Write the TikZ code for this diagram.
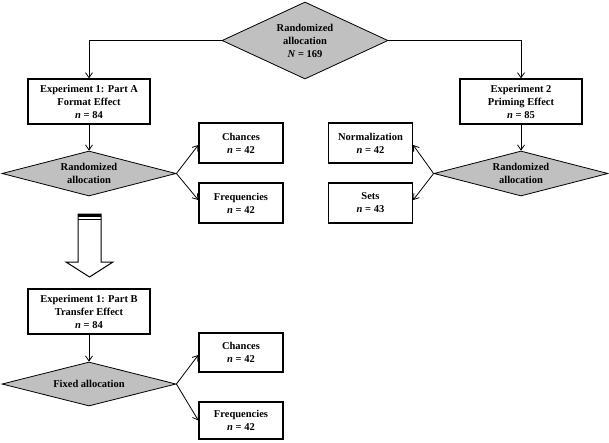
\documentclass[tikz,border=0pt]{standalone}
\usepackage{fontspec}
\setmainfont{Liberation Serif}
\usetikzlibrary{shapes.geometric,arrows.meta}
\definecolor{dgray}{RGB}{192,192,192}
\tikzset{
  txt/.style={font=\fontsize{10.5}{13}\selectfont\bfseries, align=center},
  bigbox/.style={txt, draw, line width=1.3pt, minimum width=122pt, minimum height=45pt, inner sep=0pt},
  smallbox/.style={txt, draw, line width=1.3pt, minimum width=84pt, minimum height=40pt, inner sep=0pt},
  dia/.style={txt, shape=diamond, draw, line width=0.8pt, fill=dgray, inner sep=0pt},
  conn/.style={line width=0.8pt, -{Straight Barb[length=5pt,width=7pt]}},
}
\begin{document}
\begin{tikzpicture}[x=1pt,y=-1pt]
\useasboundingbox (0,0) rectangle (609,442);
% top diamond
\node[dia, minimum width=166pt, minimum height=77pt, shape aspect=2.16] (top) at (305,40.5) {Randomized\\allocation\\\textit{N} = 169};
% experiment boxes
\node[bigbox] (e1a) at (89,101.5) {Experiment 1: Part A\\Format Effect\\\textit{n} = 84};
\node[bigbox] (e2) at (521,101.5) {Experiment 2\\Priming Effect\\\textit{n} = 85};
% second-level diamonds
\node[dia, minimum width=174pt, minimum height=45pt, shape aspect=3.87] (dA) at (89,173.5) {Randomized\\allocation};
\node[dia, minimum width=174pt, minimum height=45pt, shape aspect=3.87] (dB) at (521,173.5) {Randomized\\allocation};
% small boxes
\node[smallbox] (chA) at (241,143) {Chances\\\textit{n} = 42};
\node[smallbox] (frA) at (241,203) {Frequencies\\\textit{n} = 42};
\node[smallbox] (norm) at (370.5,143) {Normalization\\\textit{n} = 42};
\node[smallbox] (sets) at (370.5,203) {Sets\\\textit{n} = 43};
% part B
\node[bigbox] (e1b) at (89,311.5) {Experiment 1: Part B\\Transfer Effect\\\textit{n} = 84};
\node[dia, minimum width=174pt, minimum height=44pt, shape aspect=3.95] (dF) at (89,384) {Fixed allocation};
\node[smallbox, minimum height=39pt] (ch2) at (241,352.5) {Chances\\\textit{n} = 42};
\node[smallbox, minimum height=37pt] (fr2) at (241,420.5) {Frequencies\\\textit{n} = 42};
% connectors
\draw[conn] (top.west) -| (e1a.north);
\draw[conn] (top.east) -| (e2.north);
\draw[conn] (e1a.south) -- (dA.north);
\draw[conn] (e2.south) -- (dB.north);
\draw[conn] (dA.east) -- ([yshift=-2pt]chA.west);
\draw[conn] (dA.east) -- ([yshift=3pt]frA.west);
\draw[conn] (dB.west) -- ([yshift=-2pt]norm.east);
\draw[conn] (dB.west) -- ([yshift=3pt]sets.east);
\draw[conn] (e1b.south) -- (dF.north);
\draw[conn] (dF.east) -- ([yshift=-2.5pt]ch2.west);
\draw[conn] (dF.east) -- (fr2.west);
% hollow block arrow between part A and part B
\coordinate (ha) at (89.5,214);
\coordinate (hb) at (89.5,277);
\draw[line width=1pt, fill=white, line join=miter]
  (78,214) -- (78,262) -- (66,262) -- (hb) -- (113,262) -- (101,262) -- (101,214) -- cycle;
\fill[black] (78,213.5) rectangle (101,217);
\draw[line width=1pt] (78,219.5) -- (101,219.5);
\end{tikzpicture}
\end{document}
